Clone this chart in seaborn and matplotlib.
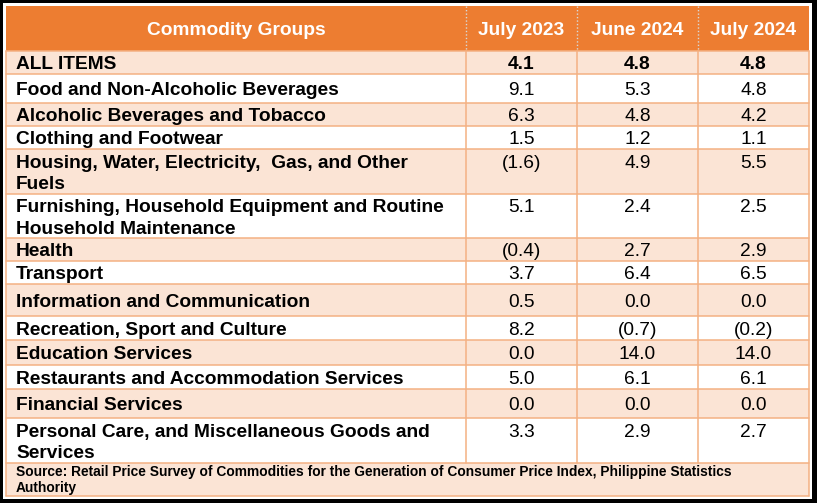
import numpy as np
import pandas as pd
import matplotlib
matplotlib.use("Agg")
import matplotlib.pyplot as plt
from matplotlib.patches import Rectangle
import seaborn as sns

# ── Data ─────────────────────────────────────────────────────
groups = [
    "ALL ITEMS",
    "Food and Non-Alcoholic Beverages",
    "Alcoholic Beverages and Tobacco",
    "Clothing and Footwear",
    "Housing, Water, Electricity,  Gas, and Other\nFuels",
    "Furnishing, Household Equipment and Routine\nHousehold Maintenance",
    "Health",
    "Transport",
    "Information and Communication",
    "Recreation, Sport and Culture",
    "Education Services",
    "Restaurants and Accommodation Services",
    "Financial Services",
    "Personal Care, and Miscellaneous Goods and\nServices",
]
periods = ["July 2023", "June 2024", "July 2024"]
july_2023 = [4.1, 9.1, 6.3, 1.5, -1.6, 5.1, -0.4, 3.7, 0.5, 8.2, 0.0, 5.0, 0.0, 3.3]
june_2024 = [4.8, 5.3, 4.8, 1.2, 4.9, 2.4, 2.7, 6.4, 0.0, -0.7, 14.0, 6.1, 0.0, 2.9]
july_2024 = [4.8, 4.8, 4.2, 1.1, 5.5, 2.5, 2.9, 6.5, 0.0, -0.2, 14.0, 6.1, 0.0, 2.7]
source = ("Source: Retail Price Survey of Commodities for the Generation of Consumer Price Index, Philippine Statistics\n"
          "Authority")

df = pd.DataFrame({"Commodity Groups": groups,
                   periods[0]: july_2023,
                   periods[1]: june_2024,
                   periods[2]: july_2024})

# ── Layout (pixels) ──────────────────────────────────────────
W, H = 817, 503
COL_EDGES = [6, 466, 577, 698, 809]
HEADER = (6, 51)
ROW_EDGES = [51, 74, 103, 126, 149, 194, 238, 261, 284, 316, 340, 365, 389, 418, 463]
SOURCE_ROW = (463, 496)

ORANGE = "#ED7D31"
LIGHT = "#FBE4D5"
GRID = "#F4B183"
FS = 13.75
EM = FS * 100 / 72
LINE = 21.5
FONT = ["Liberation Sans", "DejaVu Sans"]


def fmt(v):
    return f"({abs(v):.1f})" if v < 0 else f"{v:.1f}"


def put_lines(x, yc, text, spacing, size, **kw):
    lines = text.split("\n")
    y0 = yc - (len(lines) - 1) * spacing / 2
    for k, ln in enumerate(lines):
        ax.text(x, y0 + k * spacing + 0.36 * size * 100 / 72, ln, va="baseline",
                fontsize=size, family=FONT, **kw)
    return y0


sns.set_theme(style="white")
plt.rcParams["font.family"] = FONT

fig = plt.figure(figsize=(W / 100, H / 100), dpi=100)
ax = fig.add_axes([0, 0, 1, 1])
ax.set_xlim(0, W)
ax.set_ylim(H, 0)
ax.axis("off")

# black frame around picture
ax.add_patch(Rectangle((0, 0), W, H, facecolor="black", edgecolor="none"))
ax.add_patch(Rectangle((3, 3), W - 8, H - 7, facecolor="white", edgecolor="none"))

x0, x1 = COL_EDGES[0], COL_EDGES[-1]

# header
ax.add_patch(Rectangle((x0, HEADER[0]), x1 - x0, HEADER[1] - HEADER[0],
                       facecolor=ORANGE, edgecolor="none"))
hc = (HEADER[0] + HEADER[1]) / 2
for j, name in enumerate(df.columns):
    cx = (COL_EDGES[j] + COL_EDGES[j + 1]) / 2
    put_lines(cx, hc, name, LINE, FS, ha="center", color="white", fontweight="bold")
for xe in COL_EDGES[1:-1]:
    ax.plot([xe, xe], HEADER, color="#D9D9D9", lw=1, ls=(0, (1, 1.5)))

# body rows
for i, row in df.iterrows():
    top, bot = ROW_EDGES[i], ROW_EDGES[i + 1]
    ax.add_patch(Rectangle((x0, top), x1 - x0, bot - top,
                           facecolor=LIGHT if i % 2 == 0 else "white", edgecolor="none"))
    yc = (top + bot) / 2
    first = put_lines(16, yc, row["Commodity Groups"], LINE, FS, ha="left",
                      color="black", fontweight="bold")
    for j, p in enumerate(periods):
        cx = (COL_EDGES[j + 1] + COL_EDGES[j + 2]) / 2
        ax.text(cx, first + 0.36 * EM, fmt(row[p]), ha="center", va="baseline",
                fontsize=FS, family=FONT, color="black",
                fontweight="bold" if i == 0 else "normal")

# source row
ax.add_patch(Rectangle((x0, SOURCE_ROW[0]), x1 - x0, SOURCE_ROW[1] - SOURCE_ROW[0],
                       facecolor=LIGHT, edgecolor="none"))
put_lines(16, (SOURCE_ROW[0] + SOURCE_ROW[1]) / 2, source, 16, 9.9, ha="left",
          color="black", fontweight="bold")

# grid lines
for ye in ROW_EDGES + [SOURCE_ROW[1]]:
    ax.plot([x0, x1], [ye, ye], color=GRID, lw=1.1)
for xe in COL_EDGES[1:-1]:
    ax.plot([xe, xe], [ROW_EDGES[0], ROW_EDGES[-1]], color=GRID, lw=1.1)
ax.plot([x0, x0], [ROW_EDGES[0], SOURCE_ROW[1]], color=GRID, lw=1.1)
ax.plot([x1, x1], [ROW_EDGES[0], SOURCE_ROW[1]], color=GRID, lw=1.1)

fig.savefig("out.png", dpi=100)
